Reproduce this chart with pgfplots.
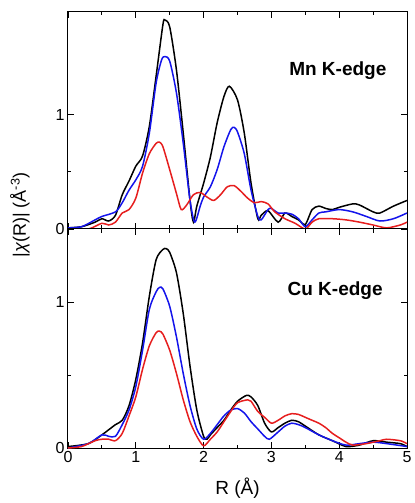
\documentclass[border=0pt]{standalone}
\usepackage{fontspec}
\setmainfont{Liberation Sans}
\usepackage{pgfplots}
\pgfplotsset{compat=1.18}
\definecolor{cblue}{RGB}{20,20,235}
\definecolor{cred}{RGB}{230,30,30}
\begin{document}
\begin{tikzpicture}
\pgfplotsset{
  every axis/.append style={
    scale only axis, width=339pt, xmin=0, xmax=5,
    xtick={0,1,2,3,4,5}, minor x tick num=1,
    ytick={0,1}, minor y tick num=1,
    tick align=inside, tick pos=both,
    major tick length=6pt, minor tick length=3.5pt,
    every tick/.style={black, line width=0.9pt},
    axis line style={line width=1pt},
    /pgf/number format/assume math mode=true,
    tick label style={font=\fontsize{16}{18}\selectfont},
    clip=true,
  },
  every axis plot/.append style={line width=1.5pt, smooth, tension=0.45, no marks},
}
\begin{axis}[name=top, height=217pt, ymin=0, ymax=1.9, xticklabels={}]
\addplot[black] coordinates {(0,0.01)(0.2,0.02)(0.4,0.06)(0.5,0.09)(0.6,0.07)(0.7,0.12)(0.8,0.30)(0.9,0.42)(1.0,0.55)(1.1,0.64)(1.2,0.90)(1.3,1.34)(1.4,1.79)(1.43,1.83)(1.5,1.77)(1.6,1.39)(1.7,0.84)(1.8,0.25)(1.85,0.06)(1.9,0.20)(2.0,0.40)(2.1,0.63)(2.2,0.93)(2.3,1.16)(2.38,1.25)(2.5,1.13)(2.6,0.84)(2.7,0.40)(2.8,0.09)(2.85,0.12)(2.95,0.16)(3.1,0.06)(3.2,0.14)(3.3,0.11)(3.4,0.08)(3.5,0.04)(3.6,0.17)(3.7,0.20)(3.8,0.18)(3.9,0.17)(4.0,0.19)(4.2,0.22)(4.3,0.21)(4.5,0.15)(4.6,0.14)(4.8,0.20)(5.0,0.25)};
\addplot[cblue] coordinates {(0,0.01)(0.2,0.02)(0.4,0.08)(0.5,0.11)(0.7,0.15)(0.8,0.23)(0.9,0.34)(1.0,0.43)(1.1,0.55)(1.2,0.84)(1.3,1.28)(1.38,1.48)(1.43,1.51)(1.5,1.47)(1.6,1.19)(1.7,0.75)(1.8,0.25)(1.87,0.06)(1.95,0.20)(2.0,0.28)(2.1,0.37)(2.2,0.52)(2.3,0.72)(2.4,0.87)(2.45,0.89)(2.5,0.85)(2.6,0.66)(2.7,0.34)(2.8,0.11)(2.85,0.08)(2.95,0.17)(3.0,0.18)(3.1,0.14)(3.2,0.14)(3.3,0.13)(3.4,0.09)(3.5,0.02)(3.6,0.08)(3.7,0.14)(3.8,0.15)(4.0,0.17)(4.2,0.15)(4.4,0.11)(4.6,0.07)(4.8,0.09)(5.0,0.14)};
\addplot[cred] coordinates {(0,0.0)(0.3,0.0)(0.5,0.05)(0.6,0.035)(0.7,0.06)(0.8,0.14)(0.9,0.17)(1.0,0.27)(1.1,0.49)(1.2,0.66)(1.3,0.75)(1.35,0.76)(1.4,0.72)(1.5,0.52)(1.6,0.31)(1.67,0.17)(1.75,0.21)(1.85,0.30)(1.95,0.32)(2.05,0.28)(2.15,0.25)(2.25,0.30)(2.35,0.37)(2.45,0.38)(2.55,0.33)(2.65,0.27)(2.75,0.23)(2.85,0.24)(2.95,0.22)(3.05,0.15)(3.2,0.09)(3.35,0.05)(3.5,0.0)(3.6,0.06)(3.7,0.09)(3.9,0.09)(4.1,0.08)(4.3,0.06)(4.5,0.035)(4.7,0.01)(4.9,0.035)(5.0,0.06)};
\coordinate (tl) at (rel axis cs:0,1);
\coordinate (mn) at (axis cs:3.98,1.39);
\end{axis}
\begin{axis}[name=bot, at={(top.south west)}, anchor=north west, height=219pt, ymin=0, ymax=1.5,
  xlabel={R (Å)}, xlabel style={font=\fontsize{19}{21}\selectfont, yshift=-8pt}]
\addplot[black] coordinates {(0,0.01)(0.3,0.03)(0.5,0.09)(0.7,0.16)(0.8,0.19)(0.9,0.29)(1.0,0.47)(1.1,0.72)(1.2,1.04)(1.3,1.29)(1.4,1.36)(1.45,1.365)(1.5,1.34)(1.6,1.20)(1.7,0.92)(1.8,0.56)(1.9,0.26)(2.0,0.08)(2.05,0.06)(2.1,0.09)(2.2,0.14)(2.3,0.19)(2.4,0.26)(2.5,0.32)(2.63,0.36)(2.7,0.35)(2.8,0.29)(2.9,0.17)(3.0,0.11)(3.1,0.14)(3.2,0.17)(3.3,0.19)(3.4,0.18)(3.5,0.15)(3.7,0.09)(3.9,0.05)(4.1,0.01)(4.3,0.02)(4.5,0.05)(4.7,0.04)(4.9,0.03)(5.0,0.01)};
\addplot[cblue] coordinates {(0,0.0)(0.3,0.03)(0.5,0.09)(0.6,0.08)(0.7,0.08)(0.8,0.16)(0.9,0.26)(1.0,0.42)(1.1,0.67)(1.2,0.95)(1.3,1.07)(1.35,1.10)(1.4,1.09)(1.5,0.97)(1.6,0.76)(1.7,0.51)(1.8,0.29)(1.9,0.13)(2.0,0.06)(2.1,0.10)(2.2,0.16)(2.3,0.22)(2.4,0.26)(2.5,0.27)(2.6,0.24)(2.7,0.18)(2.8,0.13)(2.9,0.08)(2.97,0.06)(3.1,0.11)(3.2,0.15)(3.3,0.17)(3.4,0.16)(3.5,0.14)(3.7,0.09)(3.9,0.05)(4.1,0.02)(4.3,0.03)(4.5,0.04)(4.7,0.03)(5.0,0.01)};
\addplot[cred] coordinates {(0,0)(0.2,0.01)(0.4,0.05)(0.5,0.06)(0.6,0.06)(0.7,0.05)(0.8,0.10)(0.9,0.22)(1.0,0.35)(1.1,0.54)(1.2,0.70)(1.3,0.79)(1.35,0.80)(1.4,0.78)(1.5,0.67)(1.6,0.51)(1.7,0.33)(1.8,0.18)(1.9,0.08)(2.0,0.015)(2.1,0.06)(2.2,0.11)(2.3,0.18)(2.4,0.25)(2.5,0.31)(2.65,0.33)(2.7,0.32)(2.8,0.25)(2.9,0.21)(3.0,0.17)(3.1,0.19)(3.2,0.22)(3.3,0.235)(3.4,0.23)(3.5,0.21)(3.6,0.19)(3.7,0.17)(3.8,0.14)(3.9,0.10)(4.0,0.07)(4.1,0.04)(4.2,0.02)(4.4,0.03)(4.6,0.05)(4.7,0.06)(4.9,0.05)(5.0,0.03)};
\coordinate (yl) at (rel axis cs:0,1);
\coordinate (cu) at (axis cs:3.94,1.08);
\end{axis}
\node[font=\fontsize{19}{22}\selectfont\bfseries] at (mn) {Mn K-edge};
\node[font=\fontsize{19}{22}\selectfont\bfseries] at (cu) {Cu K-edge};
\node[rotate=90, font=\fontsize{18}{20}\selectfont] at ([xshift=-48pt,yshift=14pt]yl) {|\textit{χ}(R)| (Å\textsuperscript{-3})};
\path ([xshift=-68pt,yshift=12pt]tl) rectangle ++(412pt,-503pt);
\end{tikzpicture}
\end{document}
